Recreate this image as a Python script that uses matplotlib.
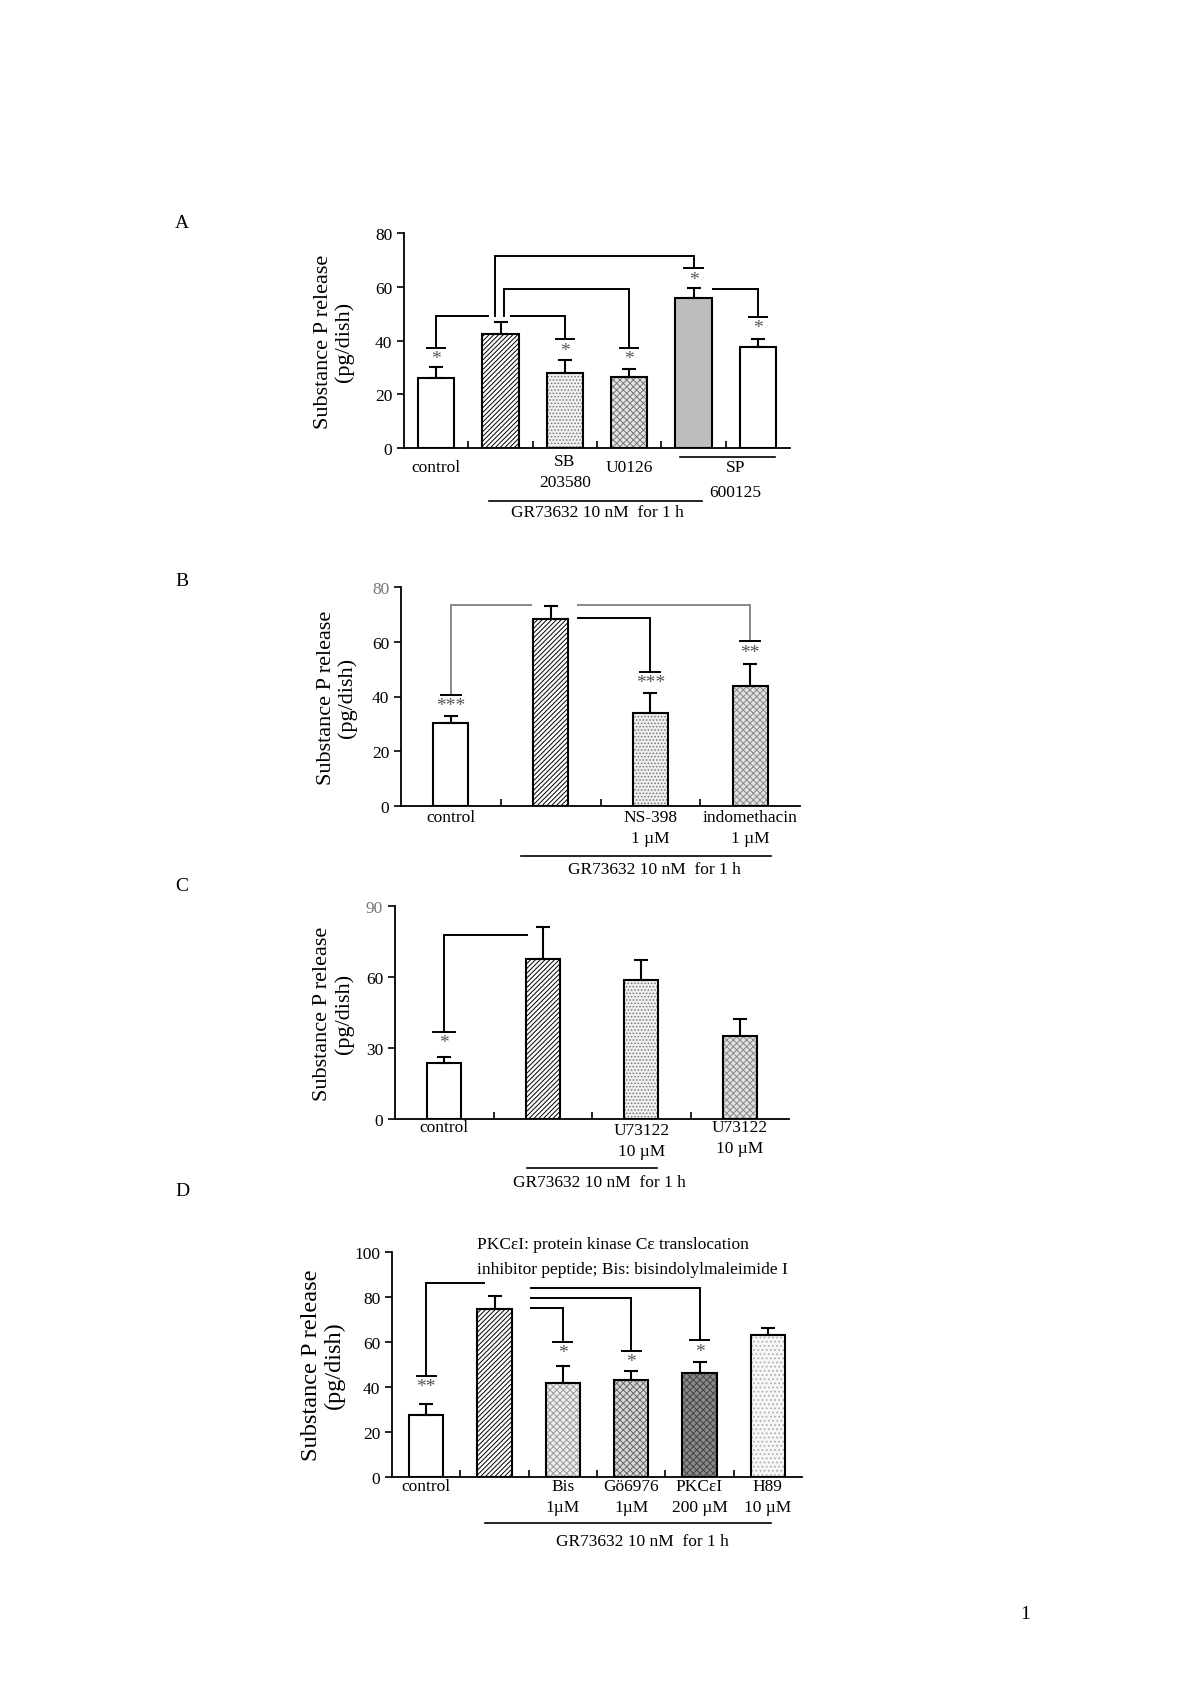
"""
Substance P release, panels A-D, bar charts with significance brackets
"""
import matplotlib
matplotlib.use('Agg')
import matplotlib.pyplot as plt
import numpy as np

plt.rcParams['font.family'] = ['Liberation Serif', 'DejaVu Serif']
plt.rcParams['hatch.linewidth'] = 0.7

W, H = 1200, 1699

# ---- data ----
a_labels = ['control', '', 'SB\n203580', 'U0126', '', '']
a_mean = [26.0, 42.5, 28.0, 26.5, 56.0, 37.5]
a_sem = [4.0, 4.3, 4.7, 3.0, 3.7, 3.0]

b_labels = ['control', '', 'NS-398\n1 µM', 'indomethacin\n1 µM']
b_mean = [30.2, 68.3, 33.8, 43.9]
b_sem = [2.6, 4.6, 7.4, 7.8]

c_labels = ['control', '', 'U73122\n10 µM', 'U73122\n10 µM']
c_mean = [23.8, 67.8, 58.8, 35.2]
c_sem = [2.3, 13.5, 8.4, 7.0]

d_labels = ['control', '', 'Bis\n1µM', 'Gö6976\n1µM', 'PKCεI\n200 µM', 'H89\n10 µM']
d_mean = [27.6, 74.7, 41.6, 42.9, 46.2, 62.9]
d_sem = [4.8, 5.7, 7.9, 4.4, 5.1, 3.4]

# brackets: (x_from, x_to, y_top, y_tee, stars, y_base_of_start)
a_brackets = [(0.82, 0, 49, 37.3, '*', None),
              (1.15, 2, 49, 40.4, '*', None),
              (1.05, 3, 59, 37.3, '*', 49),
              (0.92, 4, 71.5, 67, '*', 49),
              (4.29, 5, 59, 48.8, '*', None)]
b_brackets = [(0.81, 0, 73.6, 40.7, '***', None),
              (1.26, 3, 73.6, 60.2, '**', None),
              (1.26, 2, 68.5, 49.0, '***', None)]
c_brackets = [(0.85, 0, 77.9, 36.9, '*', None)]
d_brackets = [(0.86, 0, 86.3, 45.0, '**', None),
              (1.52, 4, 84.1, 60.9, '*', None),
              (1.52, 3, 79.5, 56.2, '*', None),
              (1.52, 2, 75.0, 60.2, '*', None)]


def add_ax(fig, l, t, r, b):
    return fig.add_axes([l / W, 1 - b / H, (r - l) / W, (b - t) / H])


def px2y(ax, px):
    # pixel distance below the x axis -> data y
    y0, y1 = ax.get_ylim()
    h = ax.get_position().height * H
    return -px * (y1 - y0) / h


def draw_bars(ax, mean, sem, width, styles, ymax, yticks, top_grey=False):
    x = np.arange(len(mean))
    for i, (fc, hatch, hc) in enumerate(styles):
        ax.bar(x[i], mean[i], width, color=fc, hatch=hatch, edgecolor=hc,
               linewidth=0, zorder=2)
        ax.bar(x[i], mean[i], width, fill=False, edgecolor='k',
               linewidth=1.5, zorder=3)
    ax.errorbar(x, mean, yerr=[np.zeros(len(sem)), sem], fmt='none',
                ecolor='k', elinewidth=1.5, capsize=5, capthick=1.5, zorder=4)
    ax.set_xlim(-0.5, len(mean) - 0.5)
    ax.set_ylim(0, ymax)
    ax.set_yticks(yticks)
    ax.set_xticks(np.arange(len(mean) - 1) + 0.5)
    ax.set_xticklabels([])
    ax.tick_params(axis='x', direction='in', length=5, width=1.2)
    ax.tick_params(axis='y', direction='out', length=5, width=1.2, labelsize=12.5)
    if top_grey:
        ax.get_yticklabels()[-1].set_color('#777777')
    for s in ['top', 'right']:
        ax.spines[s].set_visible(False)
    for s in ['left', 'bottom']:
        ax.spines[s].set_linewidth(1.3)
    ax.set_ylabel('Substance P release\n(pg/dish)', fontsize=16, linespacing=1.1)


def draw_brackets(ax, brackets, tee, colors=None):
    for k, (xa, xb, yt, ye, st, yb) in enumerate(brackets):
        c = colors[k] if colors else 'k'
        ax.plot([xa, xb], [yt, yt], color=c, lw=1.4, clip_on=False,
                solid_capstyle='butt')
        ax.plot([xb, xb], [yt, ye], color=c, lw=1.4, clip_on=False)
        ax.plot([xb - tee, xb + tee], [ye, ye], color='k', lw=1.4, clip_on=False)
        if yb is not None:
            ax.plot([xa, xa], [yb, yt], color=c, lw=1.4, clip_on=False)
        ax.text(xb, ye - (ax.get_ylim()[1] * 0.012), st, ha='center', va='top',
                fontsize=14, color='#555555')


def cat_labels(ax, labels, offs):
    for i, (lab, off) in enumerate(zip(labels, offs)):
        if not lab:
            continue
        ax.text(i, px2y(ax, off), lab, ha='center', va='top', fontsize=12.5,
                linespacing=1.45)


def group_line(ax, x0, x1, off_line, xt, off_text, text):
    y = px2y(ax, off_line)
    ax.plot([x0, x1], [y, y], color='k', lw=1.2, clip_on=False)
    ax.text(xt, px2y(ax, off_text), text, ha='center', va='center', fontsize=12.5)


fig = plt.figure(figsize=(W / 100, H / 100), dpi=100)

plain = ('white', None, 'k')
grs = ('white', '///////', 'k')

# ---- A ----
ax = add_ax(fig, 404, 234, 790, 449)
draw_bars(ax, a_mean, a_sem, 0.56,
          [plain, grs, ('#f0f0f0', '.....', '#777777'),
           ('#e4e4e4', 'xxxxx', '#777777'), ('#bdbdbd', None, 'k'), plain],
          80, [0, 20, 40, 60, 80])
draw_brackets(ax, a_brackets, 0.14)
cat_labels(ax, a_labels, [11, 0, 5, 11, 0, 0])
ax.text(4.65, px2y(ax, 11), 'SP\n600125', ha='center', va='top', fontsize=12.5,
        linespacing=1.75)
y = px2y(ax, 9)
ax.plot([3.79, 5.26], [y, y], color='k', lw=1.2, clip_on=False)
group_line(ax, 0.82, 4.13, 53, 2.5, 64, 'GR73632 10 nM  for 1 h')
ax.yaxis.set_label_coords(-0.13, 0.5)

# ---- B ----
ax = add_ax(fig, 401, 588, 800, 807)
draw_bars(ax, b_mean, b_sem, 0.35,
          [plain, grs, ('#eeeeee', '.....', '#777777'),
           ('#e2e2e2', 'xxxxx', '#888888')],
          80, [0, 20, 40, 60, 80], top_grey=True)
draw_brackets(ax, b_brackets, 0.1, colors=['#888888', '#888888', 'k'])
cat_labels(ax, b_labels, [3, 0, 3, 3])
group_line(ax, 0.70, 3.21, 50, 2.04, 63, 'GR73632 10 nM  for 1 h')
ax.yaxis.set_label_coords(-0.11, 0.5)

# ---- C ----
ax = add_ax(fig, 395, 907, 789, 1120)
draw_bars(ax, c_mean, c_sem, 0.35,
          [plain, grs, ('#f0f0f0', '.....', '#777777'),
           ('#e2e2e2', 'xxxxx', '#888888')],
          90, [0, 30, 60, 90], top_grey=True)
draw_brackets(ax, c_brackets, 0.11)
cat_labels(ax, c_labels, [0, 0, 3, 0])
group_line(ax, 0.84, 2.16, 49, 1.58, 63, 'GR73632 10 nM  for 1 h')
ax.yaxis.set_label_coords(-0.105, 0.5)

# ---- D ----
ax = add_ax(fig, 392, 1253, 802, 1478)
draw_bars(ax, d_mean, d_sem, 0.5,
          [plain, grs, ('#eeeeee', 'xxxxx', '#999999'),
           ('#d8d8d8', 'xxxxx', '#666666'), ('#8a8a8a', 'xxxxx', '#444444'),
           ('#f6f6f6', '....', '#aaaaaa')],
          100, [0, 20, 40, 60, 80, 100])
draw_brackets(ax, d_brackets, 0.14)
cat_labels(ax, d_labels, [1, 0, 1, 1, 1, 1])
group_line(ax, 0.86, 5.04, 46, 3.17, 64, 'GR73632 10 nM  for 1 h')
ax.text(0.75, 103.6, 'PKCεI: protein kinase Cε translocation', ha='left',
        va='center', fontsize=12.5)
ax.text(0.75, 92.4, 'inhibitor peptide; Bis: bisindolylmaleimide I', ha='left',
        va='center', fontsize=12.5)
ax.yaxis.set_label_coords(-0.115, 0.5)
ax.yaxis.label.set_fontsize(17.5)

# panel letters and page number
for lab, yp in zip('ABCD', [223, 582, 887, 1192]):
    fig.text(182 / W, 1 - yp / H, lab, ha='center', va='center', fontsize=14)
fig.text(1025 / W, 1 - 1615 / H, '1', ha='center', va='center', fontsize=14)

fig.savefig('out.png', dpi=100)
